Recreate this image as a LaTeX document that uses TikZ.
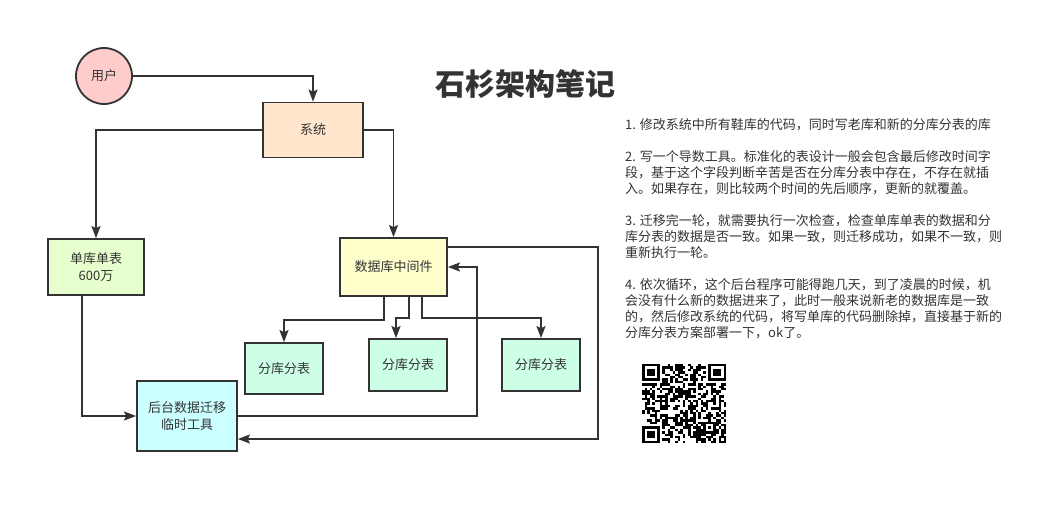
\documentclass[tikz,border=0pt]{standalone}
\usepackage{fontspec}
\setmainfont{Noto Sans CJK SC}
\usetikzlibrary{arrows.meta}
\definecolor{ink}{HTML}{333333}
\definecolor{userfill}{HTML}{FFCCCC}
\definecolor{sysfill}{HTML}{FFE6CC}
\definecolor{singlefill}{HTML}{E6FFCC}
\definecolor{midfill}{HTML}{FFFFCC}
\definecolor{shardfill}{HTML}{CCFFE6}
\definecolor{toolfill}{HTML}{CCFFFF}

\begin{document}
\begin{tikzpicture}[x=1pt,y=-1pt,
  box/.style={draw=ink,line width=1.8pt,text=ink,inner sep=0pt,align=center,font=\fontsize{13}{17}\selectfont},
  link/.style={draw=ink,line width=1.5pt,-{Stealth[length=12pt,width=9pt,inset=2pt]}}]

\useasboundingbox[fill=white] (0,0) rectangle (1064,516);

\node[box,circle,fill=userfill,minimum size=56pt] (user) at (104,76) {用户};
\node[box,fill=sysfill,minimum width=100pt,minimum height=55pt] (sys) at (313,130) {系统};
\node[box,fill=singlefill,minimum width=96pt,minimum height=56pt] (single) at (96,267) {单库单表\\600万};
\node[box,fill=midfill,minimum width=107pt,minimum height=58pt] (mid) at (393.5,267) {数据库中间件};
\node[box,fill=shardfill,minimum width=78pt,minimum height=51pt] (shard1) at (284,368.5) {分库分表};
\node[box,fill=shardfill,minimum width=78pt,minimum height=52pt] (shard2) at (408,365) {分库分表};
\node[box,fill=shardfill,minimum width=78pt,minimum height=52pt] (shard3) at (541,365) {分库分表};
\node[box,fill=toolfill,minimum width=100pt,minimum height=70pt] (tool) at (187,416) {后台数据迁移\\临时工具};

\coordinate (up) at (477,416);
\coordinate (back) at (598,439);

\draw[link] (user) -| (sys);
\draw[link] (sys) -| (single);
\draw[link] (sys) -| (mid);
\draw[link] ([xshift=-9.5pt]mid.south) -- ++(0,23) -| (shard1);
\draw[link] ([xshift=15.5pt]mid.south) -- ++(0,21) -| ([xshift=-12pt]shard2.north);
\draw[link] ([xshift=28.5pt]mid.south) -- ++(0,21) -| (shard3);
\draw[link] ([xshift=-14pt]single.south) |- (tool);
\draw[link] (tool) -- (up) |- (mid);
\draw[link] ([yshift=20pt]mid.east) -| (back) -- ([yshift=-23pt]tool.east);

\node[text=ink,font=\fontsize{30}{36}\selectfont\bfseries] (title) at (525,84) {石杉架构笔记};

\node[text=ink,anchor=north west,inner sep=0pt,align=left,font=\fontsize{13}{16}\selectfont] (notes) at (625,118) {1. 修改系统中所有鞋库的代码，同时写老库和新的分库分表的库\\[16pt]
2. 写一个导数工具。标准化的表设计一般会包含最后修改时间字\\段，基于这个字段判断辛苦是否在分库分表中存在，不存在就插\\入。如果存在，则比较两个时间的先后顺序，更新的就覆盖。\\[16pt]
3. 迁移完一轮，就需要执行一次检查，检查单库单表的数据和分\\库分表的数据是否一致。如果一致，则迁移成功，如果不一致，则\\重新执行一轮。\\[16pt]
4. 依次循环，这个后台程序可能得跑几天，到了凌晨的时候，机\\会没有什么新的数据进来了，此时一般来说新老的数据库是一致\\的，然后修改系统的代码，将写单库的代码删除掉，直接基于新的\\分库分表方案部署一下，ok了。};

\begin{scope}[shift={(642,364)},x=2.55pt,y=-2.4pt]
\pgfmathsetseed{11}
\foreach \i in {0,...,32}
  \foreach \j in {0,...,32}{
    \pgfmathtruncatemacro\on{((\i<8 && \j<8) || (\i>24 && \j<8) || (\i<8 && \j>24) || (\i>23 && \i<29 && \j>23 && \j<29)) ? 0 : (rnd<0.5)}
    \ifnum\on=1 \fill (\i,\j) rectangle ++(1.02,1.02);\fi
  }
\foreach \a/\b in {0/0,26/0,0/26}{
  \fill (\a,\b) rectangle ++(7,7);
  \fill[white] (\a+1,\b+1) rectangle ++(5,5);
  \fill (\a+2,\b+2) rectangle ++(3,3);
}
\fill (24,24) rectangle ++(5,5);
\fill[white] (25,25) rectangle ++(3,3);
\fill (26,26) rectangle ++(1,1);
\end{scope}

\end{tikzpicture}
\end{document}
